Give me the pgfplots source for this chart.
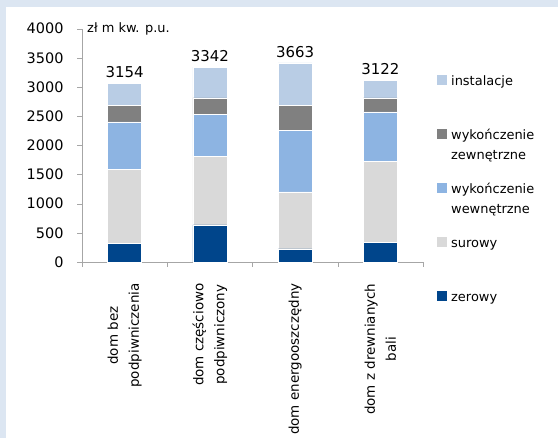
\documentclass[border=0pt]{standalone}
\usepackage{fontspec}
\setmainfont{DejaVu Sans}
\usepackage{pgfplots}
\pgfplotsset{compat=1.18}
\definecolor{cZer}{RGB}{0,69,139}
\definecolor{cSur}{RGB}{217,217,217}
\definecolor{cWew}{RGB}{141,180,226}
\definecolor{cZew}{RGB}{128,128,128}
\definecolor{cIns}{RGB}{185,205,229}
\definecolor{cAx}{RGB}{166,166,166}
\definecolor{cBg}{RGB}{220,230,242}
\newcommand{\twol}[2]{\parbox[t]{100bp}{#1\\#2}}
\begin{document}
\begin{tikzpicture}[x=1bp,y=1bp]
\path[use as bounding box] (0,0) rectangle (558,438);
\fill[cBg] (0,0) rectangle (6,438);
\fill[cBg] (0,431) rectangle (558,438);
\begin{axis}[
  at={(82bp,176bp)}, anchor=south west,
  scale only axis, width=341bp, height=233.3bp,
  ybar stacked, bar width=34bp,
  xmin=-0.5, xmax=3.5, ymin=0, ymax=4000,
  axis x line*=bottom, axis y line*=left,
  axis line style={cAx},
  xtick={0,1,2,3},
  xticklabels={{dom bez\\podpiwniczenia},{dom częściowo\\podpiwniczony},{dom energooszczędny},{dom z drewnianych\\bali}},
  minor xtick={-0.5,0.5,1.5,2.5,3.5},
  major x tick style={draw=none},
  minor tick length=5bp,
  major tick length=5bp,
  tick align=outside,
  tick style={cAx},
  ytick={0,500,...,4000},
  /pgf/number format/assume math mode=true,
  /pgf/number format/1000 sep={},
  yticklabel style={font=\fontsize{14.5}{17}\selectfont, xshift=-10bp},
  xticklabel style={font=\fontsize{13.5}{21}\selectfont, rotate=90, anchor=east, align=center, xshift=-13bp},
  legend cell align=left,
  reverse legend,
  legend style={at={(1.041,0.8106)}, anchor=north west, draw=none, fill=none,
    font=\fontsize{13}{20}\selectfont, row sep=14bp, column sep=4bp, inner sep=0pt,
    cells={anchor=base west},
    nodes={text height=12bp, text depth=28bp, inner sep=0pt}},
  legend image code/.code={\fill[#1,draw=none] (0bp,0bp) rectangle (10bp,10bp);},
  clip=false,
]
\addplot[fill=cZer, draw=white, line width=0.4bp] coordinates {(0,316) (1,635) (2,223) (3,338)};
\addplot[fill=cSur, draw=white, line width=0.4bp] coordinates {(0,1275) (1,1179) (2,978) (3,1385)};
\addplot[fill=cWew, draw=white, line width=0.4bp] coordinates {(0,811) (1,715) (2,1059) (3,851)};
\addplot[fill=cZew, draw=white, line width=0.4bp] coordinates {(0,287) (1,285) (2,429) (3,240)};
\addplot[fill=cIns, draw=white, line width=0.4bp] coordinates {(0,372) (1,527) (2,726) (3,299)};
\legend{zerowy,surowy,{\twol{wykończenie}{wewnętrzne}},{\twol{wykończenie}{zewnętrzne}},instalacje}
\node[anchor=south, font=\fontsize{15}{17}\selectfont, yshift=2bp] at (axis cs:0,3061) {3154};
\node[anchor=south, font=\fontsize{15}{17}\selectfont, yshift=2bp] at (axis cs:1,3341) {3342};
\node[anchor=south, font=\fontsize{15}{17}\selectfont, yshift=2bp] at (axis cs:2,3415) {3663};
\node[anchor=south, font=\fontsize{15}{17}\selectfont, yshift=2bp] at (axis cs:3,3113) {3122};
\node[anchor=west, font=\fontsize{13}{15}\selectfont] at (axis cs:-0.48,4000) {zł m kw. p.u.};
\end{axis}
\end{tikzpicture}
\end{document}
